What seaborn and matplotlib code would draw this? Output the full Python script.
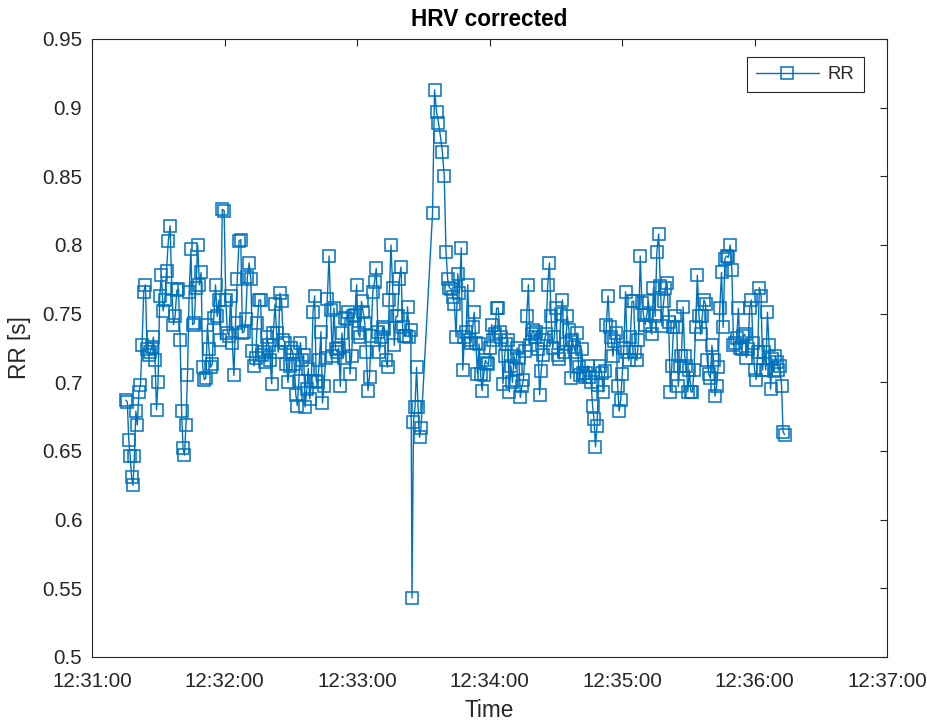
import numpy as np
import pandas as pd
import matplotlib
matplotlib.use("Agg")
import matplotlib.pyplot as plt
import matplotlib.dates as mdates
from matplotlib.ticker import FuncFormatter
import seaborn as sns

# ---------------- data (RR intervals in seconds) ----------------
start_time = "2020-01-01 12:31:15.3"
x_limits = ("2020-01-01 12:31:00", "2020-01-01 12:37:00")
y_ticks = [0.5, 0.55, 0.6, 0.65, 0.7, 0.75, 0.8, 0.85, 0.9, 0.95]

rr_a = [0.687, 0.686, 0.658, 0.646, 0.631, 0.625, 0.646, 0.679, 0.669, 0.693,
        0.698, 0.727, 0.766, 0.771, 0.724, 0.720, 0.722, 0.726, 0.733, 0.716,
        0.680, 0.700, 0.763, 0.778, 0.752, 0.760, 0.781, 0.803, 0.814,
        0.768, 0.742, 0.748, 0.767, 0.768, 0.731, 0.679, 0.652, 0.647, 0.669,
        0.705, 0.766, 0.797, 0.742, 0.743, 0.769, 0.800, 0.771, 0.780, 0.711,
        0.702, 0.703, 0.742, 0.724, 0.711, 0.713, 0.747, 0.771, 0.748,
        0.760, 0.731, 0.826, 0.825]
rr_b = [0.760, 0.736, 0.734, 0.763, 0.729, 0.705, 0.743, 0.775, 0.803, 0.804,
        0.736, 0.737, 0.746, 0.777, 0.787, 0.775, 0.723, 0.712, 0.718, 0.743,
        0.760, 0.760, 0.720, 0.722, 0.715, 0.733, 0.727, 0.716, 0.699, 0.736,
        0.757, 0.736, 0.722, 0.765, 0.759, 0.731, 0.729, 0.713, 0.700,
        0.712, 0.725, 0.722, 0.713, 0.691, 0.683, 0.701, 0.729, 0.716,
        0.720, 0.682, 0.695, 0.710, 0.688, 0.701, 0.751, 0.763, 0.701, 0.700,
        0.716, 0.737, 0.685, 0.697, 0.718, 0.761, 0.792, 0.753, 0.719]
rr_c = [0.754, 0.724, 0.722, 0.725, 0.697, 0.736, 0.718, 0.747, 0.746, 0.751,
        0.706, 0.719, 0.748, 0.749, 0.771, 0.736, 0.733, 0.759, 0.751, 0.743,
        0.722, 0.694, 0.704, 0.734, 0.766, 0.773, 0.783, 0.737, 0.722, 0.733,
        0.740, 0.739, 0.716, 0.711, 0.760, 0.800, 0.769, 0.727, 0.748, 0.748,
        0.775, 0.784, 0.740, 0.734, 0.734, 0.755, 0.733, 0.738, 0.543, 0.671,
        0.682, 0.711, 0.682, 0.660, 0.667]
gap_before_spike_s = 4.4
rr_d = [0.823, 0.913, 0.897, 0.889, 0.879, 0.868, 0.850, 0.795, 0.775, 0.769,
        0.768, 0.762, 0.757, 0.733, 0.779, 0.765, 0.798, 0.709, 0.733, 0.737,
        0.771]
rr_e = [0.731, 0.729, 0.740, 0.751, 0.729, 0.706, 0.728, 0.706, 0.694, 0.705,
        0.716, 0.714, 0.713, 0.725, 0.742, 0.731, 0.735, 0.754, 0.754, 0.737,
        0.733, 0.699, 0.719, 0.728, 0.731, 0.693, 0.712, 0.700, 0.719, 0.710,
        0.725, 0.718, 0.689, 0.697, 0.702, 0.723, 0.748, 0.771, 0.727, 0.735,
        0.738, 0.733, 0.737, 0.724, 0.691, 0.708, 0.720, 0.731, 0.735, 0.771,
        0.787, 0.748, 0.725, 0.733, 0.754, 0.720, 0.717, 0.750, 0.760, 0.722,
        0.728, 0.748, 0.738, 0.703, 0.731, 0.726, 0.722, 0.736, 0.711, 0.705]
rr_f = [0.724, 0.707, 0.704, 0.707, 0.712, 0.704, 0.700, 0.683, 0.673, 0.653,
        0.668, 0.698, 0.712, 0.707, 0.693, 0.708, 0.742, 0.763, 0.740, 0.733,
        0.719, 0.730, 0.736, 0.697, 0.679, 0.687, 0.706, 0.725, 0.766, 0.722,
        0.716, 0.733, 0.759, 0.759, 0.722, 0.716, 0.731, 0.792, 0.758, 0.749,
        0.742, 0.749, 0.759, 0.741, 0.735, 0.769, 0.748, 0.795, 0.808, 0.770,
        0.741, 0.759, 0.769, 0.772, 0.744, 0.693, 0.712, 0.740, 0.748, 0.740,
        0.697, 0.712, 0.719, 0.755, 0.719, 0.712, 0.693]
rr_g = [0.709, 0.693, 0.693, 0.709, 0.740, 0.778, 0.748, 0.735, 0.748, 0.760,
        0.757, 0.716, 0.706, 0.703, 0.727, 0.716, 0.690, 0.697, 0.711, 0.754,
        0.780, 0.740, 0.790, 0.792, 0.791, 0.800, 0.782, 0.727, 0.729, 0.732,
        0.754, 0.725, 0.724, 0.734, 0.735, 0.718, 0.724, 0.754, 0.760, 0.729,
        0.709, 0.702, 0.722, 0.769, 0.763, 0.709, 0.722, 0.709, 0.751, 0.727,
        0.695, 0.717, 0.708, 0.719, 0.715, 0.709, 0.712, 0.697, 0.664, 0.662]

# ---------------- build table ----------------
rr = np.array(rr_a + rr_b + rr_c + rr_d + rr_e + rr_f + rr_g)
steps = rr.copy()
steps[0] = 0.0
spike_start = len(rr_a) + len(rr_b) + len(rr_c)
steps[spike_start] += gap_before_spike_s
times = pd.Timestamp(start_time) + pd.to_timedelta(np.cumsum(steps), unit="s")
df = pd.DataFrame({"Time": times, "RR": rr})

# ---------------- style ----------------
sns.set_style("white")
plt.rcParams["font.family"] = ["Liberation Sans", "DejaVu Sans"]
dark = "#262626"
blue = "#0072BD"

fig = plt.figure(figsize=(9.27, 7.24), dpi=100)
ax = fig.add_axes([92 / 927, 1 - 657 / 724, (887 - 92) / 927, (657 - 39) / 724])

sns.lineplot(data=df, x="Time", y="RR", ax=ax, sort=False, estimator=None,
             color=blue, linewidth=1.0, marker="s", markersize=8,
             markerfacecolor="none", markeredgecolor=blue, markeredgewidth=1.1,
             label="RR", legend=False)

ax.set_xlim(pd.Timestamp(x_limits[0]), pd.Timestamp(x_limits[1]))
ax.set_ylim(y_ticks[0], y_ticks[-1])
ax.set_yticks(y_ticks)
ax.yaxis.set_major_formatter(FuncFormatter(lambda v, p: f"{v:g}"))
ax.xaxis.set_major_locator(mdates.MinuteLocator())
ax.xaxis.set_major_formatter(mdates.DateFormatter("%H:%M:%S"))

for s in ax.spines.values():
    s.set_visible(True)
    s.set_color(dark)
    s.set_linewidth(0.8)

ax.tick_params(axis="both", which="major", direction="in", top=True, right=True,
               length=5, width=0.8, colors=dark, labelcolor=dark, labelsize=14.8)
ax.tick_params(axis="x", pad=10.5)
ax.tick_params(axis="y", pad=7)

ax.set_xlabel("Time", fontsize=16.3, color=dark, labelpad=6)
ax.set_ylabel("RR [s]", fontsize=16.3, color=dark, labelpad=8)
ax.set_title("HRV corrected", fontsize=16.3, fontweight="bold", color="black", pad=9.5)

leg = ax.legend(loc="upper right", bbox_to_anchor=(0.971, 0.971), borderaxespad=0,
                fontsize=13.3, frameon=True, fancybox=False, framealpha=1,
                edgecolor=dark, handlelength=3.4, handletextpad=0.5,
                borderpad=0.5)
leg.get_frame().set_linewidth(0.8)

fig.savefig("out.png", dpi=100)
